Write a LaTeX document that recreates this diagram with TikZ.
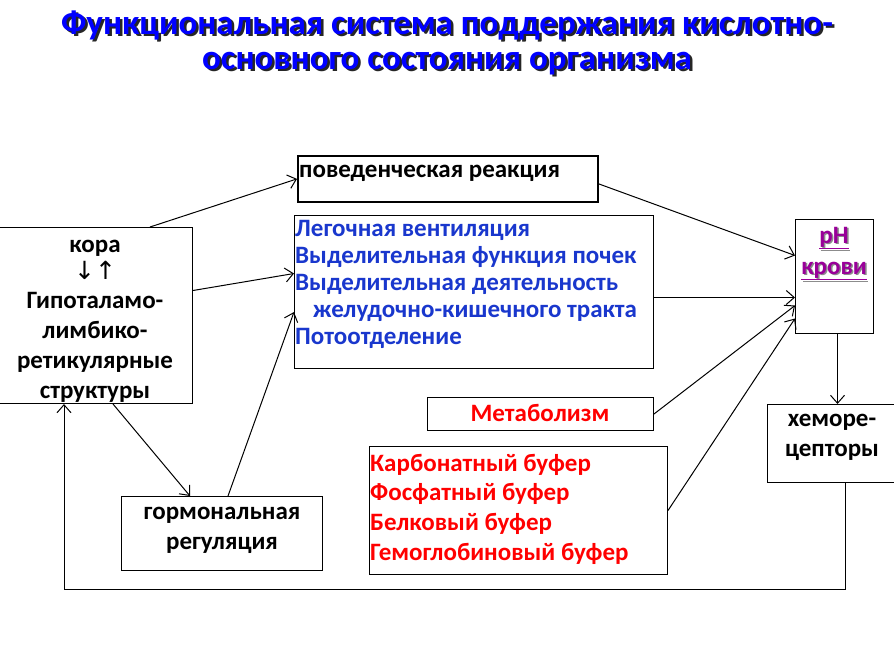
\documentclass[tikz,border=0pt]{standalone}
\usepackage{fontspec}
\setmainfont{Carlito}
\newfontfamily\arrowfont{DejaVu Sans}
\usetikzlibrary{arrows.meta}
\definecolor{tblue}{RGB}{0,0,255}
\definecolor{bblue}{RGB}{25,55,205}
\definecolor{pred}{RGB}{255,0,0}
\definecolor{ppurple}{RGB}{153,0,153}
\begin{document}
\begin{tikzpicture}[x=1pt,y=-1pt,
 box/.style={draw, line width=1pt, anchor=north west, inner sep=0pt},
 txt/.style={font=\bfseries\fontsize{25}{30}\selectfont, inner sep=0pt},
 arr/.style={-{Straight Barb[length=8pt,width=14pt,line width=1pt]}, line width=1pt},
 ttl/.style={font=\bfseries\fontsize{35}{35}\selectfont, inner sep=0pt, align=center}]
\useasboundingbox[fill=white] (0,0) rectangle (894,662);
% title
\node[ttl, text=black!85] (titleshadow) at (449.5,45) {Функциональная система поддержания кислотно-\\основного состояния организма};
\node[ttl, text=tblue] (title) at (447,42.5) {Функциональная система поддержания кислотно-\\основного состояния организма};
% boxes
\node[box, minimum width=196, minimum height=176] (ctx) at (-4,227) {};
\node[box, line width=1.8pt, minimum width=300, minimum height=46] (beh) at (297,155) {};
\node[box, minimum width=359, minimum height=153] (blue) at (294,215) {};
\node[box, minimum width=78, minimum height=114] (ph) at (795,219) {};
\node[box, minimum width=130, minimum height=78] (chem) at (767,404) {};
\node[box, minimum width=226, minimum height=33] (met) at (427,397) {};
\node[box, minimum width=298, minimum height=128] (buf) at (369,446) {};
\node[box, minimum width=201, minimum height=74] (horm) at (121,496) {};
% texts
\node[txt, align=center] (ctxt) at (95,321) {кора\\[-3pt]{\arrowfont\mdseries\fontsize{25}{25}\selectfont ↓↑}\\[-1pt]Гипоталамо-\\лимбико-\\ретикулярные\\структуры};
\node[txt, anchor=base west] (beht) at (299,177) {поведенческая реакция};
\node[txt, text=bblue, align=left, anchor=west, font=\bfseries\fontsize{25}{27}\selectfont] (bluet) at (295,284) {Легочная вентиляция\\Выделительная функция почек\\Выделительная деятельность\\\hspace*{18pt}желудочно-кишечного тракта\\Потоотделение};
\node[txt, text=black!45, align=center, font=\bfseries\fontsize{25}{31}\selectfont] (phshadow) at (835.5,255) {\underline{pH}\\\underline{крови}};
\node[txt, text=ppurple, align=center, font=\bfseries\fontsize{25}{31}\selectfont] (pht) at (834,253.5) {\underline{pH}\\\underline{крови}};
\node[txt, align=center] (chemt) at (832,437) {хеморе-\\цепторы};
\node[txt, text=pred] (mett) at (540,413) {Метаболизм};
\node[txt, text=pred, align=left, anchor=west, font=\bfseries\fontsize{25}{29.7}\selectfont] (buft) at (370,509) {Карбонатный буфер\\Фосфатный буфер\\Белковый буфер\\Гемоглобиновый буфер};
\node[txt, align=center] (hormt) at (222,530) {гормональная\\регуляция};
% connectors
\draw[arr] ([xshift=154pt]ctx.north west) -- (beh.west);
\draw[arr] ([yshift=25pt]ctx.east) -- ([yshift=18.5pt]blue.west);
\draw[arr] ([xshift=117pt]ctx.south west) -- ([xshift=69pt]horm.north west);
\draw[arr] ([xshift=107pt]horm.north west) -- ([yshift=-20pt]blue.west);
\draw[arr] ([yshift=-5pt]beh.east) -- ([yshift=21pt]ph.west);
\draw[arr] ([yshift=-5.5pt]blue.east) -- ([yshift=-21pt]ph.west);
\draw[arr] (met.east) -- ([yshift=-29pt]ph.west);
\draw[arr] (buf.east) -- ([yshift=-42pt]ph.west);
\draw[arr] ([xshift=3pt]ph.south) -- ([xshift=5pt]chem.north);
\draw[arr] ([xshift=13pt]chem.south) -- ++(0,106) -| ([xshift=68pt]ctx.south west);
\end{tikzpicture}
\end{document}
